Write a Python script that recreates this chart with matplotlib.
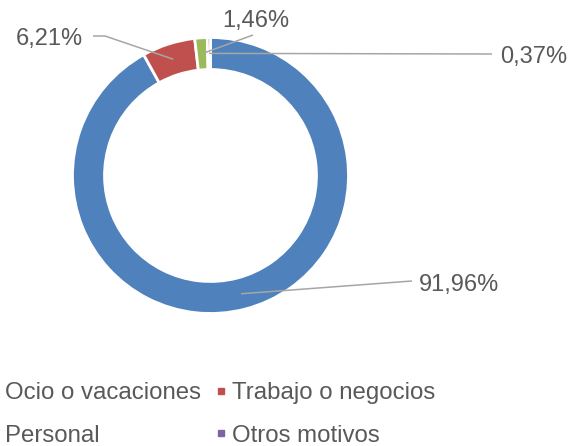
import numpy as np
import matplotlib
matplotlib.use("Agg")
import matplotlib.pyplot as plt
from matplotlib.lines import Line2D

# data
categories = ["Ocio o vacaciones", "Trabajo o negocios", "Personal", "Otros motivos"]
shares = [91.96, 6.21, 1.46, 0.37]
labels = ["91,96%", "6,21%", "1,46%", "0,37%"]
colors = ["#4F81BD", "#C0504D", "#9BBB59", "#8064A2"]

TXT = "#595959"
LEAD = "#A6A6A6"
W, H = 586, 446
CX, CY, R = 210.5, 175.5, 138.0   # donut centre / radius in pixels


def px(x, y):
    """pixel (top-left origin) -> data units of the pie axes"""
    return (x - CX) / R, (CY - y) / R


plt.rcParams["font.family"] = ["Liberation Sans", "DejaVu Sans"]
fig = plt.figure(figsize=(W / 100, H / 100), dpi=100)
ax = fig.add_axes([0, 0, 1, 1])
wedges, _ = ax.pie(shares, colors=colors, startangle=90, counterclock=False,
                   radius=1, wedgeprops=dict(width=0.232, edgecolor="white", linewidth=2))
ax.set_xlim(-CX / R, (W - CX) / R)
ax.set_ylim(-(H - CY) / R, CY / R)
ax.set_aspect("auto")
ax.axis("off")

# anchor points at slice mid-angles, middle of the ring
frac = np.cumsum([0] + shares[:-1]) + np.array(shares) / 2
ang = np.deg2rad(90 - frac / 100 * 360)
rmid = 0.885
anchors = [(rmid * np.cos(a), rmid * np.sin(a)) for a in ang]

# label text (pixel position, alignment) and leader start points
label_pos = [((419, 291), "left"), ((83, 45), "right"), ((222, 27), "left"), ((500, 63), "left")]
leader_from = [[(412, 281)], [(93, 36), (105, 36)], [(253, 35)], [(492, 54)]]

for lab, (pos, ha), pts, anc in zip(labels, label_pos, leader_from, anchors):
    ax.text(*px(*pos), lab, ha=ha, va="baseline", fontsize=17, color=TXT)
    xy = [px(*p) for p in pts] + [anc]
    ax.plot([p[0] for p in xy], [p[1] for p in xy], color=LEAD, lw=1.1,
            solid_capstyle="butt")

handles = [Line2D([], [], ls="none", marker="s", markersize=5, color=c) for c in colors]
order = [0, 2, 1, 3]
fig.legend([handles[i] for i in order], [categories[i] for i in order],
           ncol=2, loc="upper left", bbox_to_anchor=(-10.5 / W, (H - 382) / H),
           frameon=False, fontsize=17.3, labelcolor=TXT,
           handlelength=0.34, handletextpad=0.3, columnspacing=0.66,
           labelspacing=0.86, borderpad=0, borderaxespad=0)

fig.savefig("out.png", dpi=100)
